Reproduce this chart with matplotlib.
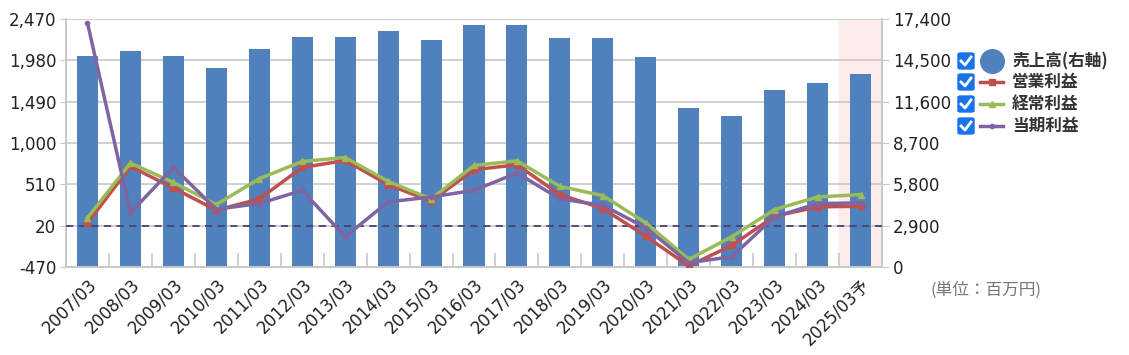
import matplotlib
matplotlib.use("Agg")
import matplotlib.pyplot as plt
from matplotlib.patches import FancyBboxPatch
from matplotlib.lines import Line2D
import numpy as np

plt.rcParams['font.family'] = ['DejaVu Sans', 'Noto Sans CJK JP']

years = ["2007/03", "2008/03", "2009/03", "2010/03", "2011/03", "2012/03", "2013/03",
         "2014/03", "2015/03", "2016/03", "2017/03", "2018/03", "2019/03", "2020/03",
         "2021/03", "2022/03", "2023/03", "2024/03", "2025/03予"]
# 売上高 (right axis)
sales = [14800, 15120, 14800, 13950, 15330, 16170, 16170, 16590, 15960, 17010,
         17010, 16050, 16050, 14700, 11140, 10600, 12400, 12910, 13540]
# 営業利益
op_profit = [50, 722, 467, 203, 337, 710, 793, 506, 309, 683, 742, 388, 223, -104,
             -459, -214, 132, 243, 250]
# 経常利益
ord_profit = [113, 762, 533, 270, 577, 781, 828, 545, 337, 734, 789, 486, 376, 54,
              -380, -112, 211, 361, 388]
# 当期利益
net_profit = [2423, 172, 710, 215, 282, 439, -112, 302, 360, 439, 644, 337, 262, -5,
              -419, -348, 125, 282, 290]

left_ticks = [-470, 20, 510, 1000, 1490, 1980, 2470]
right_ticks = [0, 2900, 5800, 8700, 11600, 14500, 17400]

W, H = 1129, 355
fig = plt.figure(figsize=(W / 100, H / 100), dpi=100)
ax = fig.add_axes([66 / W, 1 - 267 / H, 816 / W, 248 / H])
ax2 = ax.twinx()
ax.set_zorder(ax2.get_zorder() + 1)
ax.patch.set_visible(False)

x = np.arange(len(years))
grid_c = "#c8c8c8"

# forecast shading + grid + bars on the right-axis layer (behind the lines)
ax2.axvspan(len(years) - 1.5, len(years) - 0.5, color="#fdecec", zorder=0)
for v in right_ticks:
    ax2.axhline(v, color=grid_c, lw=1.2, zorder=1)
ax2.bar(x, sales, width=0.49, color="#4f81bd", zorder=2)

ax.axhline(20, color="#4a4070", lw=1.3, ls=(0, (4, 3)), zorder=3)
ax.plot(x, op_profit, color="#c0504d", lw=2.5, marker="s", ms=4, zorder=4)
ax.plot(x, ord_profit, color="#9bbb59", lw=2.5, marker="^", ms=5, zorder=5)
ax.plot(x, net_profit, color="#8064a2", lw=2.5, marker="o", ms=3, zorder=6)

ax.set_xlim(-0.5, len(years) - 0.5)
ax.set_ylim(-470, 2470)
ax2.set_ylim(0, 17400)

ax.set_yticks(left_ticks)
ax.set_yticklabels([f"{v:,}" for v in left_ticks], fontsize=12, color="#222222")
ax2.set_yticks(right_ticks)
ax2.set_yticklabels([f"{v:,}" for v in right_ticks], fontsize=12, color="#222222")

ax.set_xticks(x)
ax.set_xticklabels(years, rotation=45, ha="right", rotation_mode="anchor", fontsize=12,
                   color="#222222")
ax.tick_params(axis="x", length=0, pad=6)
ax.set_xticks(np.arange(0.5, len(years) - 0.5, 1), minor=True)
ax.tick_params(axis="x", which="minor", direction="in", length=10, color=grid_c, width=1.2)
ax.tick_params(axis="y", length=4, color=grid_c, pad=3)
ax2.tick_params(axis="y", length=5, color=grid_c, pad=3)

for a in (ax, ax2):
    for s in a.spines.values():
        s.set_color(grid_c)
        s.set_linewidth(1.2)
    a.spines["top"].set_visible(False)


def fx(px):
    return px / W


def fy(py):
    return 1 - py / H


legend_items = [
    ("売上高(右軸)", "#4f81bd", "circle"),
    ("営業利益", "#c0504d", "s"),
    ("経常利益", "#9bbb59", "^"),
    ("当期利益", "#8064a2", "o"),
]
rows = [61, 82, 104, 126]
for (label, col, kind), ry in zip(legend_items, rows):
    fig.patches.append(FancyBboxPatch((fx(958), fy(ry + 8)), 16 / W, 16 / H,
                                      boxstyle="round,pad=0,rounding_size=0.003",
                                      transform=fig.transFigure, color="#1a73e8"))
    fig.lines.append(Line2D([fx(961), fx(965), fx(971)], [fy(ry), fy(ry + 4), fy(ry - 4)],
                            transform=fig.transFigure, color="white", lw=2))
    if kind == "circle":
        fig.lines.append(Line2D([fx(992)], [fy(ry)], transform=fig.transFigure,
                                marker="o", ms=17, color=col, ls="none"))
    else:
        fig.lines.append(Line2D([fx(980), fx(1003)], [fy(ry), fy(ry)], transform=fig.transFigure,
                                color=col, lw=2.5))
        fig.lines.append(Line2D([fx(991.5)], [fy(ry)], transform=fig.transFigure,
                                color=col, marker=kind, ms=5 if kind != "o" else 3, ls="none"))
    fig.text(fx(1012), fy(ry), label, fontsize=12, fontweight="bold", color="#333333",
             va="center", ha="left", family=["Noto Sans CJK JP", "DejaVu Sans"])

fig.text(fx(930), fy(290), "(単位：百万円)", fontsize=12, color="#777777", va="center",
         ha="left", family=["Noto Sans CJK JP", "DejaVu Sans"])

fig.savefig("out.png", dpi=100)
